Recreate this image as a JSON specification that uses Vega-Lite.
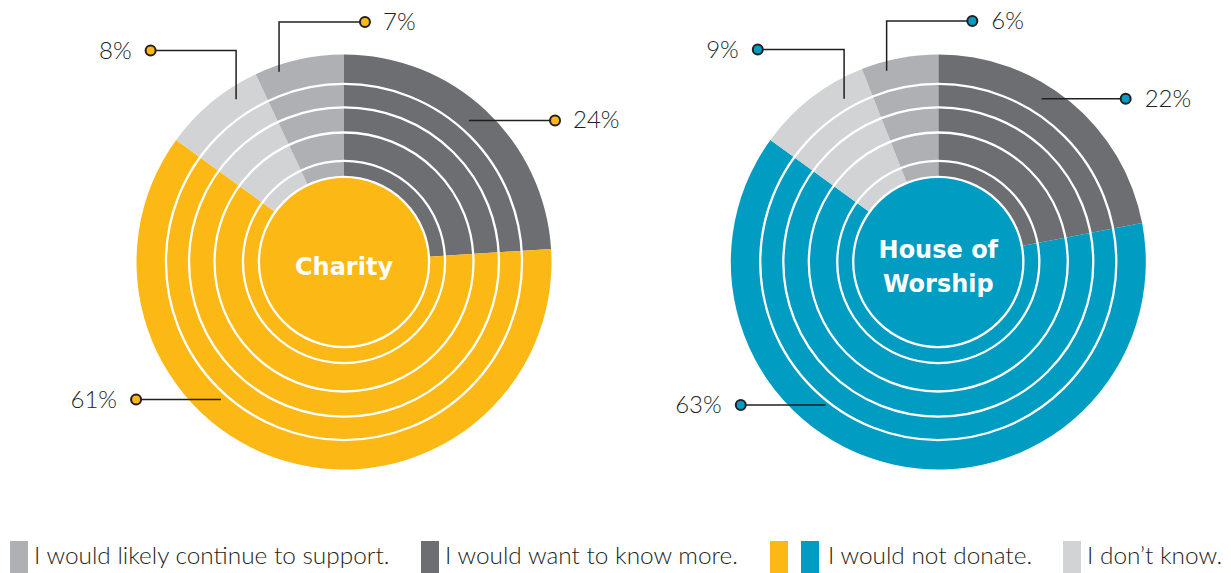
{
  "$schema": "https://vega.github.io/schema/vega-lite/v6.json",
  "padding": 0,
  "spacing": 0,
  "bounds": "flush",
  "background": "white",
  "config": {"view": {"stroke": null}, "font": "Lato"},
  "datasets": {
    "segments": [
      {"pie": "Charity", "response": "I would want to know more.", "pct": 24, "order": 1},
      {"pie": "Charity", "response": "I would not donate.", "pct": 61, "order": 2},
      {"pie": "Charity", "response": "I don’t know.", "pct": 8, "order": 3},
      {"pie": "Charity", "response": "I would likely continue to support.", "pct": 7, "order": 4},
      {"pie": "House of Worship", "response": "I would want to know more.", "pct": 22, "order": 1},
      {"pie": "House of Worship", "response": "I would not donate.", "pct": 63, "order": 2},
      {"pie": "House of Worship", "response": "I don’t know.", "pct": 9, "order": 3},
      {"pie": "House of Worship", "response": "I would likely continue to support.", "pct": 6, "order": 4}
    ],
    "pies": [
      {"pie": "Charity", "title": "Charity"},
      {"pie": "House of Worship", "title": "House of\nWorship"}
    ],
    "rings": [{"r": 41}, {"r": 48.7}, {"r": 62.4}, {"r": 74.5}, {"r": 85.8}],
    "callouts_charity": [
      {"response": "I would want to know more.", "x": 101.7, "y": 68.2, "side": "right"},
      {"response": "I would not donate.", "x": -100.2, "y": -66.3, "side": "left"},
      {"response": "I don’t know.", "x": -93.2, "y": 101.9, "side": "left"},
      {"response": "I would likely continue to support.", "x": 10.1, "y": 115.7, "side": "right"}
    ],
    "callouts_worship": [
      {"response": "I would want to know more.", "x": 90.3, "y": 78.7, "side": "right"},
      {"response": "I would not donate.", "x": -95.2, "y": -68.9, "side": "left"},
      {"response": "I don’t know.", "x": -87.0, "y": 102.4, "side": "left"},
      {"response": "I would likely continue to support.", "x": 16.4, "y": 116.1, "side": "right"}
    ],
    "leaders_charity": [
      {"id": "more", "seq": 1, "x": 60.2, "y": 68.2},
      {"id": "more", "seq": 2, "x": 101.7, "y": 68.2},
      {"id": "not", "seq": 1, "x": -59.3, "y": -66.3},
      {"id": "not", "seq": 2, "x": -100.2, "y": -66.3},
      {"id": "dk", "seq": 1, "x": -52.0, "y": 78.4},
      {"id": "dk", "seq": 2, "x": -52.0, "y": 101.9},
      {"id": "dk", "seq": 3, "x": -93.2, "y": 101.9},
      {"id": "sup", "seq": 1, "x": -31.3, "y": 91.7},
      {"id": "sup", "seq": 2, "x": -31.3, "y": 115.7},
      {"id": "sup", "seq": 3, "x": 10.1, "y": 115.7}
    ],
    "leaders_worship": [
      {"id": "more", "seq": 1, "x": 49.8, "y": 78.7},
      {"id": "more", "seq": 2, "x": 90.3, "y": 78.7},
      {"id": "not", "seq": 1, "x": -54.3, "y": -68.9},
      {"id": "not", "seq": 2, "x": -95.2, "y": -68.9},
      {"id": "dk", "seq": 1, "x": -45.4, "y": 78.7},
      {"id": "dk", "seq": 2, "x": -45.4, "y": 102.4},
      {"id": "dk", "seq": 3, "x": -87.0, "y": 102.4},
      {"id": "sup", "seq": 1, "x": -24.9, "y": 92.2},
      {"id": "sup", "seq": 2, "x": -24.9, "y": 116.1},
      {"id": "sup", "seq": 3, "x": 16.4, "y": 116.1}
    ]
  },
  "resolve": {"scale": {"color": "independent"}},
  "hconcat": [
    {
      "width": 640,
      "height": 520,
      "layer": [
        {
          "data": {"name": "segments"},
          "transform": [
            {"filter": "datum.pie === 'Charity'"},
            {"stack": "pct", "groupby": ["pie"], "sort": [{"field": "order", "order": "ascending"}], "as": ["t0", "t1"]}
          ],
          "mark": {"type": "arc"},
          "encoding": {
            "x": {"datum": 0, "type": "quantitative", "scale": {"domain": [-165.783, 142.651], "nice": false, "zero": false}, "axis": null},
            "y": {"datum": 0, "type": "quantitative", "scale": {"domain": [-124.337, 126.265], "nice": false, "zero": false}, "axis": null},
            "theta": {"field": "t0", "type": "quantitative", "stack": null, "scale": {"domain": [0, 100], "range": [0, 6.283185307179586]}},
            "theta2": {"field": "t1"},
            "radius": {"datum": 100, "type": "quantitative", "stack": null, "scale": {"type": "linear", "domain": [0, 100], "range": [0, 207.5], "zero": true}},
            "radius2": {"datum": 41},
            "color": {
              "field": "response",
              "type": "nominal",
              "scale": {
                "domain": ["I would likely continue to support.", "I would want to know more.", "I would not donate.", "I don’t know."],
                "range": ["#aeb0b3", "#6d6e71", "#fcb814", "#d1d3d4"]
              },
              "legend": {
                "title": null,
                "orient": "none",
                "legendX": 10,
                "legendY": 541,
                "direction": "horizontal",
                "columns": 4,
                "columnPadding": 30,
                "padding": 0,
                "symbolType": "M-1,-1H0.125V1H-1Z",
                "symbolSize": 1024,
                "symbolStrokeWidth": 0,
                "symbolOpacity": 1,
                "labelFont": "Lato",
                "labelFontWeight": 300,
                "labelFontSize": 24.4,
                "labelColor": "#231f20",
                "labelLimit": 800,
                "encode": {
                  "symbols": {
                    "update": {
                      "x": {"value": 16},
                      "y": {"value": 16}
                    }
                  },
                  "labels": {
                    "update": {
                      "x": {"signal": "datum.value === 'I would not donate.' ? 58 : 24"},
                      "y": {"value": 16},
                      "baseline": {"value": "middle"}
                    }
                  }
                }
              }
            }
          }
        },
        {
          "data": {"name": "pies"},
          "transform": [{"filter": "datum.pie === 'Charity'"}],
          "mark": {"type": "arc", "theta": 0, "theta2": 6.283185307179586},
          "encoding": {
            "x": {"datum": 0, "type": "quantitative", "scale": {"domain": [-165.783, 142.651], "nice": false, "zero": false}, "axis": null},
            "y": {"datum": 0, "type": "quantitative", "scale": {"domain": [-124.337, 126.265], "nice": false, "zero": false}, "axis": null},
            "radius": {"datum": 41, "type": "quantitative", "stack": null, "scale": {"type": "linear", "domain": [0, 100], "range": [0, 207.5], "zero": true}},
            "color": {"datum": "I would not donate.", "type": "nominal", "legend": null}
          }
        },
        {
          "data": {"name": "rings"},
          "mark": {"type": "arc", "theta": 0, "theta2": 6.283185307179586, "filled": false, "stroke": "white", "strokeWidth": 2.3},
          "encoding": {
            "x": {"datum": 0, "type": "quantitative", "scale": {"domain": [-165.783, 142.651], "nice": false, "zero": false}, "axis": null},
            "y": {"datum": 0, "type": "quantitative", "scale": {"domain": [-124.337, 126.265], "nice": false, "zero": false}, "axis": null},
            "radius": {"field": "r", "type": "quantitative", "stack": null, "scale": {"type": "linear", "domain": [0, 100], "range": [0, 207.5], "zero": true}}
          }
        },
        {
          "data": {"name": "leaders_charity"},
          "mark": {"type": "line", "color": "#231f20", "strokeWidth": 1.5, "strokeCap": "butt", "strokeJoin": "miter"},
          "encoding": {
            "x": {"field": "x", "type": "quantitative", "scale": {"domain": [-165.783, 142.651], "nice": false, "zero": false}, "axis": null},
            "y": {"field": "y", "type": "quantitative", "scale": {"domain": [-124.337, 126.265], "nice": false, "zero": false}, "axis": null},
            "detail": {"field": "id"},
            "order": {"field": "seq"}
          }
        },
        {
          "data": {"name": "callouts_charity"},
          "mark": {"type": "point", "shape": "circle", "filled": true, "size": 100, "stroke": "#231f20", "strokeWidth": 2, "opacity": 1},
          "encoding": {
            "x": {"field": "x", "type": "quantitative", "scale": {"domain": [-165.783, 142.651], "nice": false, "zero": false}, "axis": null},
            "y": {"field": "y", "type": "quantitative", "scale": {"domain": [-124.337, 126.265], "nice": false, "zero": false}, "axis": null},
            "color": {"datum": "I would not donate.", "type": "nominal", "legend": null}
          }
        },
        {
          "data": {"name": "segments"},
          "transform": [
            {"filter": "datum.pie === 'Charity'"},
            {"lookup": "response", "from": {"data": {"name": "callouts_charity"}, "key": "response", "fields": ["x", "y", "side"]}},
            {"filter": "datum.side === 'right'"},
            {"calculate": "datum.pct + '%'", "as": "label"}
          ],
          "mark": {"type": "text", "align": "left", "baseline": "middle", "dx": 18, "dy": 1, "font": "Lato", "fontWeight": 300, "fontSize": 24, "color": "#231f20"},
          "encoding": {
            "x": {"field": "x", "type": "quantitative", "scale": {"domain": [-165.783, 142.651], "nice": false, "zero": false}, "axis": null},
            "y": {"field": "y", "type": "quantitative", "scale": {"domain": [-124.337, 126.265], "nice": false, "zero": false}, "axis": null},
            "text": {"field": "label"}
          }
        },
        {
          "data": {"name": "segments"},
          "transform": [
            {"filter": "datum.pie === 'Charity'"},
            {"lookup": "response", "from": {"data": {"name": "callouts_charity"}, "key": "response", "fields": ["x", "y", "side"]}},
            {"filter": "datum.side === 'left'"},
            {"calculate": "datum.pct + '%'", "as": "label"}
          ],
          "mark": {"type": "text", "align": "right", "baseline": "middle", "dx": -19, "dy": 1, "font": "Lato", "fontWeight": 300, "fontSize": 24, "color": "#231f20"},
          "encoding": {
            "x": {"field": "x", "type": "quantitative", "scale": {"domain": [-165.783, 142.651], "nice": false, "zero": false}, "axis": null},
            "y": {"field": "y", "type": "quantitative", "scale": {"domain": [-124.337, 126.265], "nice": false, "zero": false}, "axis": null},
            "text": {"field": "label"}
          }
        },
        {
          "data": {"name": "pies"},
          "transform": [{"filter": "datum.pie === 'Charity'"}],
          "mark": {"type": "text", "align": "center", "baseline": "middle", "dy": 6, "font": "DejaVu Sans", "fontWeight": "bold", "fontSize": 24, "lineBreak": "\n", "lineHeight": 34, "color": "white"},
          "encoding": {
            "x": {"datum": 0, "type": "quantitative", "scale": {"domain": [-165.783, 142.651], "nice": false, "zero": false}, "axis": null},
            "y": {"datum": 0, "type": "quantitative", "scale": {"domain": [-124.337, 126.265], "nice": false, "zero": false}, "axis": null},
            "text": {"field": "title"}
          }
        }
      ]
    },
    {
      "width": 591,
      "height": 520,
      "layer": [
        {
          "data": {"name": "segments"},
          "transform": [
            {"filter": "datum.pie === 'House of Worship'"},
            {"stack": "pct", "groupby": ["pie"], "sort": [{"field": "order", "order": "ascending"}], "as": ["t0", "t1"]}
          ],
          "mark": {"type": "arc"},
          "encoding": {
            "x": {"datum": 0, "type": "quantitative", "scale": {"domain": [-143.759, 141.06], "nice": false, "zero": false}, "axis": null},
            "y": {"datum": 0, "type": "quantitative", "scale": {"domain": [-124.337, 126.265], "nice": false, "zero": false}, "axis": null},
            "theta": {"field": "t0", "type": "quantitative", "stack": null, "scale": {"domain": [0, 100], "range": [0, 6.283185307179586]}},
            "theta2": {"field": "t1"},
            "radius": {"datum": 100, "type": "quantitative", "stack": null, "scale": {"type": "linear", "domain": [0, 100], "range": [0, 207.5], "zero": true}},
            "radius2": {"datum": 41},
            "color": {
              "field": "response",
              "type": "nominal",
              "scale": {
                "domain": ["I would likely continue to support.", "I would want to know more.", "I would not donate.", "I don’t know."],
                "range": ["#aeb0b3", "#6d6e71", "#009cc2", "#d1d3d4"]
              },
              "legend": {
                "title": null,
                "orient": "none",
                "legendX": 161,
                "legendY": 541,
                "values": ["I would not donate."],
                "padding": 0,
                "symbolType": "M-1,-1H0.125V1H-1Z",
                "symbolSize": 1024,
                "symbolStrokeWidth": 0,
                "symbolOpacity": 1,
                "labelOpacity": 0,
                "labelFontSize": 1,
                "encode": {
                  "symbols": {
                    "update": {
                      "x": {"value": 16},
                      "y": {"value": 16}
                    }
                  }
                }
              }
            }
          }
        },
        {
          "data": {"name": "pies"},
          "transform": [{"filter": "datum.pie === 'House of Worship'"}],
          "mark": {"type": "arc", "theta": 0, "theta2": 6.283185307179586},
          "encoding": {
            "x": {"datum": 0, "type": "quantitative", "scale": {"domain": [-143.759, 141.06], "nice": false, "zero": false}, "axis": null},
            "y": {"datum": 0, "type": "quantitative", "scale": {"domain": [-124.337, 126.265], "nice": false, "zero": false}, "axis": null},
            "radius": {"datum": 41, "type": "quantitative", "stack": null, "scale": {"type": "linear", "domain": [0, 100], "range": [0, 207.5], "zero": true}},
            "color": {"datum": "I would not donate.", "type": "nominal", "legend": null}
          }
        },
        {
          "data": {"name": "rings"},
          "mark": {"type": "arc", "theta": 0, "theta2": 6.283185307179586, "filled": false, "stroke": "white", "strokeWidth": 2.3},
          "encoding": {
            "x": {"datum": 0, "type": "quantitative", "scale": {"domain": [-143.759, 141.06], "nice": false, "zero": false}, "axis": null},
            "y": {"datum": 0, "type": "quantitative", "scale": {"domain": [-124.337, 126.265], "nice": false, "zero": false}, "axis": null},
            "radius": {"field": "r", "type": "quantitative", "stack": null, "scale": {"type": "linear", "domain": [0, 100], "range": [0, 207.5], "zero": true}}
          }
        },
        {
          "data": {"name": "leaders_worship"},
          "mark": {"type": "line", "color": "#231f20", "strokeWidth": 1.5, "strokeCap": "butt", "strokeJoin": "miter"},
          "encoding": {
            "x": {"field": "x", "type": "quantitative", "scale": {"domain": [-143.759, 141.06], "nice": false, "zero": false}, "axis": null},
            "y": {"field": "y", "type": "quantitative", "scale": {"domain": [-124.337, 126.265], "nice": false, "zero": false}, "axis": null},
            "detail": {"field": "id"},
            "order": {"field": "seq"}
          }
        },
        {
          "data": {"name": "callouts_worship"},
          "mark": {"type": "point", "shape": "circle", "filled": true, "size": 100, "stroke": "#231f20", "strokeWidth": 2, "opacity": 1},
          "encoding": {
            "x": {"field": "x", "type": "quantitative", "scale": {"domain": [-143.759, 141.06], "nice": false, "zero": false}, "axis": null},
            "y": {"field": "y", "type": "quantitative", "scale": {"domain": [-124.337, 126.265], "nice": false, "zero": false}, "axis": null},
            "color": {"datum": "I would not donate.", "type": "nominal", "legend": null}
          }
        },
        {
          "data": {"name": "segments"},
          "transform": [
            {"filter": "datum.pie === 'House of Worship'"},
            {"lookup": "response", "from": {"data": {"name": "callouts_worship"}, "key": "response", "fields": ["x", "y", "side"]}},
            {"filter": "datum.side === 'right'"},
            {"calculate": "datum.pct + '%'", "as": "label"}
          ],
          "mark": {"type": "text", "align": "left", "baseline": "middle", "dx": 19, "dy": 1, "font": "Lato", "fontWeight": 300, "fontSize": 24, "color": "#231f20"},
          "encoding": {
            "x": {"field": "x", "type": "quantitative", "scale": {"domain": [-143.759, 141.06], "nice": false, "zero": false}, "axis": null},
            "y": {"field": "y", "type": "quantitative", "scale": {"domain": [-124.337, 126.265], "nice": false, "zero": false}, "axis": null},
            "text": {"field": "label"}
          }
        },
        {
          "data": {"name": "segments"},
          "transform": [
            {"filter": "datum.pie === 'House of Worship'"},
            {"lookup": "response", "from": {"data": {"name": "callouts_worship"}, "key": "response", "fields": ["x", "y", "side"]}},
            {"filter": "datum.side === 'left'"},
            {"calculate": "datum.pct + '%'", "as": "label"}
          ],
          "mark": {"type": "text", "align": "right", "baseline": "middle", "dx": -19, "dy": 1, "font": "Lato", "fontWeight": 300, "fontSize": 24, "color": "#231f20"},
          "encoding": {
            "x": {"field": "x", "type": "quantitative", "scale": {"domain": [-143.759, 141.06], "nice": false, "zero": false}, "axis": null},
            "y": {"field": "y", "type": "quantitative", "scale": {"domain": [-124.337, 126.265], "nice": false, "zero": false}, "axis": null},
            "text": {"field": "label"}
          }
        },
        {
          "data": {"name": "pies"},
          "transform": [{"filter": "datum.pie === 'House of Worship'"}],
          "mark": {"type": "text", "align": "center", "baseline": "middle", "dy": -11, "font": "DejaVu Sans", "fontWeight": "bold", "fontSize": 24, "lineBreak": "\n", "lineHeight": 34, "color": "white"},
          "encoding": {
            "x": {"datum": 0, "type": "quantitative", "scale": {"domain": [-143.759, 141.06], "nice": false, "zero": false}, "axis": null},
            "y": {"datum": 0, "type": "quantitative", "scale": {"domain": [-124.337, 126.265], "nice": false, "zero": false}, "axis": null},
            "text": {"field": "title"}
          }
        }
      ]
    }
  ]
}
